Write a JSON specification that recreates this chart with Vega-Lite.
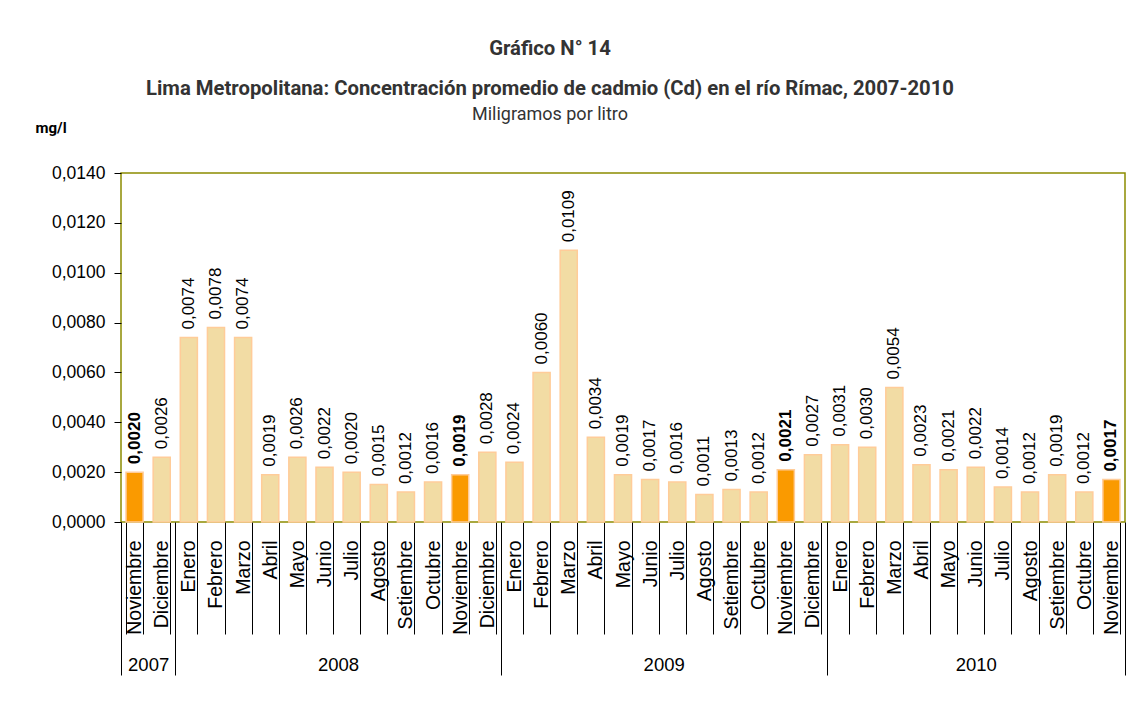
{
  "$schema": "https://vega.github.io/schema/vega-lite/v6.json",
  "autosize": {"type": "none"},
  "width": 1004,
  "height": 349,
  "padding": {"left": 121, "top": 173, "right": 10, "bottom": 180},
  "background": "white",
  "title": {
    "text": ["Gráfico N° 14", "Lima Metropolitana: Concentración promedio de cadmio (Cd) en el río Rímac, 2007-2010"],
    "subtitle": "Miligramos por litro",
    "anchor": "middle",
    "frame": "group",
    "dx": -73,
    "font": "Roboto",
    "fontSize": 20.3,
    "fontWeight": "bold",
    "color": "#333333",
    "lineHeight": 40,
    "subtitleFont": "Roboto",
    "subtitleFontSize": 18,
    "subtitleColor": "#333333",
    "subtitlePadding": 7,
    "offset": -4
  },
  "datasets": {
    "meses": [
      {"periodo": "Noviembre 2007", "valor": 0.0020, "destacado": true},
      {"periodo": "Diciembre 2007", "valor": 0.0026, "destacado": false},
      {"periodo": "Enero 2008", "valor": 0.0074, "destacado": false},
      {"periodo": "Febrero 2008", "valor": 0.0078, "destacado": false},
      {"periodo": "Marzo 2008", "valor": 0.0074, "destacado": false},
      {"periodo": "Abril 2008", "valor": 0.0019, "destacado": false},
      {"periodo": "Mayo 2008", "valor": 0.0026, "destacado": false},
      {"periodo": "Junio 2008", "valor": 0.0022, "destacado": false},
      {"periodo": "Julio 2008", "valor": 0.0020, "destacado": false},
      {"periodo": "Agosto 2008", "valor": 0.0015, "destacado": false},
      {"periodo": "Setiembre 2008", "valor": 0.0012, "destacado": false},
      {"periodo": "Octubre 2008", "valor": 0.0016, "destacado": false},
      {"periodo": "Noviembre 2008", "valor": 0.0019, "destacado": true},
      {"periodo": "Diciembre 2008", "valor": 0.0028, "destacado": false},
      {"periodo": "Enero 2009", "valor": 0.0024, "destacado": false},
      {"periodo": "Febrero 2009", "valor": 0.0060, "destacado": false},
      {"periodo": "Marzo 2009", "valor": 0.0109, "destacado": false},
      {"periodo": "Abril 2009", "valor": 0.0034, "destacado": false},
      {"periodo": "Mayo 2009", "valor": 0.0019, "destacado": false},
      {"periodo": "Junio 2009", "valor": 0.0017, "destacado": false},
      {"periodo": "Julio 2009", "valor": 0.0016, "destacado": false},
      {"periodo": "Agosto 2009", "valor": 0.0011, "destacado": false},
      {"periodo": "Setiembre 2009", "valor": 0.0013, "destacado": false},
      {"periodo": "Octubre 2009", "valor": 0.0012, "destacado": false},
      {"periodo": "Noviembre 2009", "valor": 0.0021, "destacado": true},
      {"periodo": "Diciembre 2009", "valor": 0.0027, "destacado": false},
      {"periodo": "Enero 2010", "valor": 0.0031, "destacado": false},
      {"periodo": "Febrero 2010", "valor": 0.0030, "destacado": false},
      {"periodo": "Marzo 2010", "valor": 0.0054, "destacado": false},
      {"periodo": "Abril 2010", "valor": 0.0023, "destacado": false},
      {"periodo": "Mayo 2010", "valor": 0.0021, "destacado": false},
      {"periodo": "Junio 2010", "valor": 0.0022, "destacado": false},
      {"periodo": "Julio 2010", "valor": 0.0014, "destacado": false},
      {"periodo": "Agosto 2010", "valor": 0.0012, "destacado": false},
      {"periodo": "Setiembre 2010", "valor": 0.0019, "destacado": false},
      {"periodo": "Octubre 2010", "valor": 0.0012, "destacado": false},
      {"periodo": "Noviembre 2010", "valor": 0.0017, "destacado": true}
    ],
    "anios": [
      {"anio": "2007", "inicio": 0, "fin": 2},
      {"anio": "2008", "inicio": 2, "fin": 14},
      {"anio": "2009", "inicio": 14, "fin": 26},
      {"anio": "2010", "inicio": 26, "fin": 37}
    ]
  },
  "layer": [
    {
      "data": {"name": "meses"},
      "encoding": {
        "x": {
          "field": "periodo",
          "type": "nominal",
          "sort": null,
          "scale": {"paddingInner": 0.37, "paddingOuter": 0.185},
          "axis": {
            "orient": "bottom",
            "title": null,
            "labelExpr": "split(datum.label, ' ')[0]",
            "labelAngle": -90,
            "labelFont": "Liberation Sans",
            "labelFontSize": 19.5,
            "labelColor": "black",
            "labelPadding": -94,
            "labelOverlap": false,
            "tickBand": "extent",
            "tickSize": 112,
            "tickColor": "black",
            "tickWidth": 1,
            "domain": false
          }
        },
        "y": {
          "field": "valor",
          "type": "quantitative",
          "scale": {"domain": [0, 0.014], "nice": false},
          "axis": {
            "title": "mg/l",
            "titleAngle": 0,
            "titleAlign": "left",
            "titleBaseline": "alphabetic",
            "titleX": -86,
            "titleY": -41,
            "titleFont": "Roboto",
            "titleFontSize": 15,
            "titleFontWeight": "bold",
            "titleColor": "black",
            "values": [0, 0.002, 0.004, 0.006, 0.008, 0.01, 0.012, 0.014],
            "format": ".4f",
            "labelFont": "Liberation Sans",
            "labelFontSize": 17.5,
            "labelColor": "black",
            "labelPadding": 9,
            "tickSize": 7,
            "tickColor": "black",
            "domain": false,
            "grid": false
          }
        }
      },
      "layer": [
        {
          "mark": {"type": "bar", "stroke": "#FFCC99", "strokeWidth": 1.5},
          "encoding": {
            "color": {
              "field": "destacado",
              "type": "nominal",
              "scale": {"domain": [false, true], "range": ["#F2DCA4", "#FA9A00"]},
              "legend": null
            }
          }
        },
        {
          "transform": [{"filter": "!datum.destacado"}],
          "mark": {"type": "text", "angle": 270, "align": "left", "baseline": "middle", "dx": 8, "font": "Liberation Sans", "fontSize": 17, "color": "black"},
          "encoding": {
            "text": {"field": "valor", "type": "quantitative", "format": ".4f"}
          }
        },
        {
          "transform": [{"filter": "datum.destacado"}],
          "mark": {"type": "text", "angle": 270, "align": "left", "baseline": "middle", "dx": 8, "font": "Liberation Sans", "fontSize": 17, "fontWeight": "bold", "color": "black"},
          "encoding": {
            "text": {"field": "valor", "type": "quantitative", "format": ".4f"}
          }
        }
      ]
    },
    {
      "data": {"name": "anios"},
      "mark": {"type": "rule", "opacity": 0},
      "encoding": {
        "x": {
          "field": "inicio",
          "type": "quantitative",
          "scale": {"domain": [0, 37], "nice": false, "zero": false},
          "axis": {
            "orient": "bottom",
            "title": null,
            "values": [0, 1, 2, 8, 14, 20, 26, 31.5, 37],
            "labelExpr": "datum.value == 1 ? '2007' : datum.value == 8 ? '2008' : datum.value == 20 ? '2009' : datum.value == 31.5 ? '2010' : ''",
            "labelFont": "Liberation Sans",
            "labelFontSize": 18.5,
            "labelColor": "black",
            "labelAngle": 0,
            "labelAlign": "center",
            "labelBaseline": "top",
            "labelPadding": -20,
            "labelOverlap": false,
            "labelFlush": false,
            "labelBound": false,
            "tickSize": 153,
            "tickColor": "black",
            "tickOpacity": {"condition": {"test": "indexof([0, 2, 14, 26, 37], datum.value) >= 0", "value": 1}, "value": 0},
            "domain": false,
            "grid": false
          }
        }
      }
    }
  ],
  "resolve": {"scale": {"x": "independent"}},
  "config": {
    "locale": {"number": {"decimal": ",", "thousands": ".", "grouping": [3], "currency": ["", ""]}},
    "view": {"stroke": "#8C8C00", "strokeWidth": 1.5}
  }
}
